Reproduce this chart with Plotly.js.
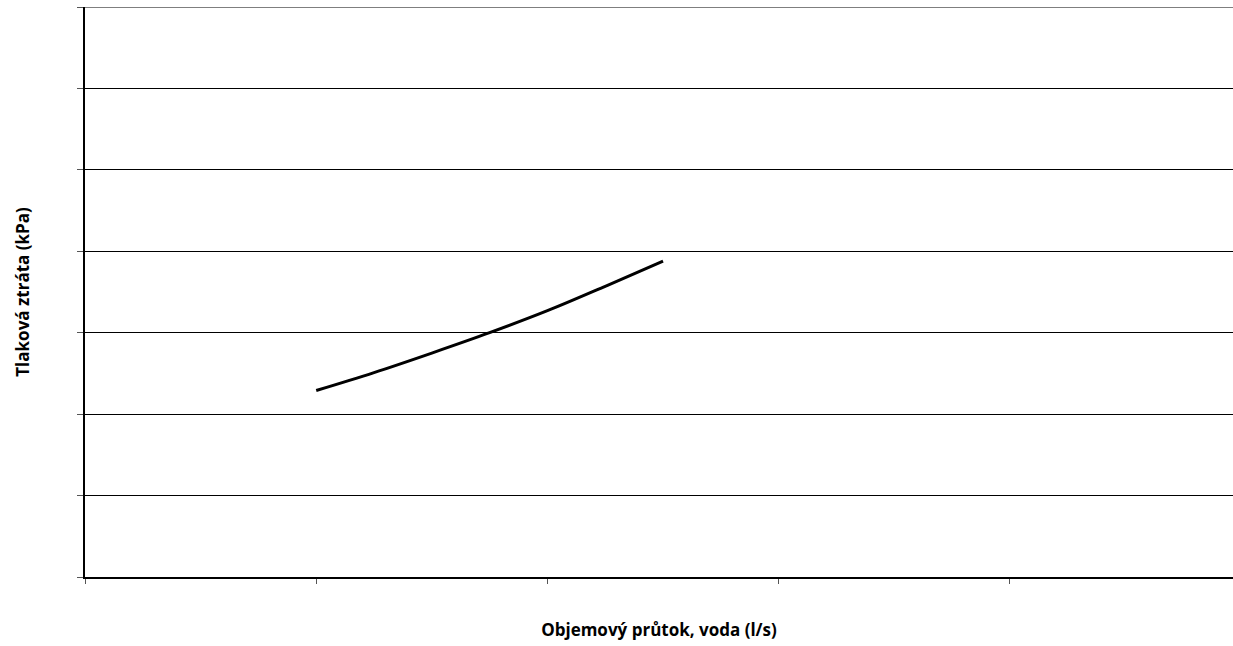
<!DOCTYPE html>
<html>
<head>
<meta charset="utf-8">
<script src="https://cdn.plot.ly/plotly-3.0.1.min.js"></script>
<style>
  html, body { margin: 0; padding: 0; background: #ffffff; }
  #chart { width: 1233px; height: 646px; }
</style>
</head>
<body>
<div id="chart"></div>
<script>
// Pressure loss curve of the unit versus water volume flow
const flowLs = [1.0, 1.25, 1.5, 1.75, 2.0, 2.25, 2.5];
const pressureDropKPa = [2.29, 2.51, 2.75, 3.00, 3.27, 3.57, 3.88];

const xTickVals = [0, 1, 2, 3, 4];
const yTickVals = [0, 1, 2, 3, 4, 5, 6, 7];

const xTitle = 'Objemový průtok, voda (l/s)';
const yTitle = 'Tlaková ztráta (kPa)';

const titleFont = { family: 'Open Sans, sans-serif', size: 17, color: '#000000', weight: 'bold' };

const trace = {
  x: flowLs,
  y: pressureDropKPa,
  type: 'scatter',
  mode: 'lines',
  line: { color: '#000000', width: 3, shape: 'spline' },
  hoverinfo: 'skip',
  showlegend: false
};

const layout = {
  width: 1233,
  height: 646,
  margin: { l: 85, r: 0, t: 7, b: 69 },
  paper_bgcolor: '#ffffff',
  plot_bgcolor: '#ffffff',
  showlegend: false,
  xaxis: {
    range: [0, 4.965],
    tickmode: 'array',
    tickvals: xTickVals,
    showgrid: false,
    zeroline: false,
    showline: true,
    linecolor: '#000000',
    linewidth: 2,
    ticks: 'outside',
    ticklen: 5,
    tickwidth: 1,
    tickcolor: '#555555',
    showticklabels: false,
    title: { text: xTitle, font: titleFont, standoff: 41 }
  },
  yaxis: {
    range: [0, 7],
    tickmode: 'array',
    tickvals: yTickVals,
    showgrid: true,
    gridcolor: '#000000',
    gridwidth: 1,
    zeroline: false,
    showline: true,
    linecolor: '#000000',
    linewidth: 2,
    ticks: 'outside',
    ticklen: 6,
    tickwidth: 1,
    tickcolor: '#555555',
    showticklabels: false,
    title: { text: yTitle, font: titleFont, standoff: 43 }
  },
  // top gridline at the upper end of the pressure range
  shapes: [{
    type: 'line',
    xref: 'paper', yref: 'y',
    x0: 0, x1: 1, y0: 7, y1: 7,
    line: { color: '#000000', width: 1 },
    layer: 'below'
  }]
};

Plotly.newPlot('chart', [trace], layout, { staticPlot: true, displayModeBar: false });
</script>
</body>
</html>
